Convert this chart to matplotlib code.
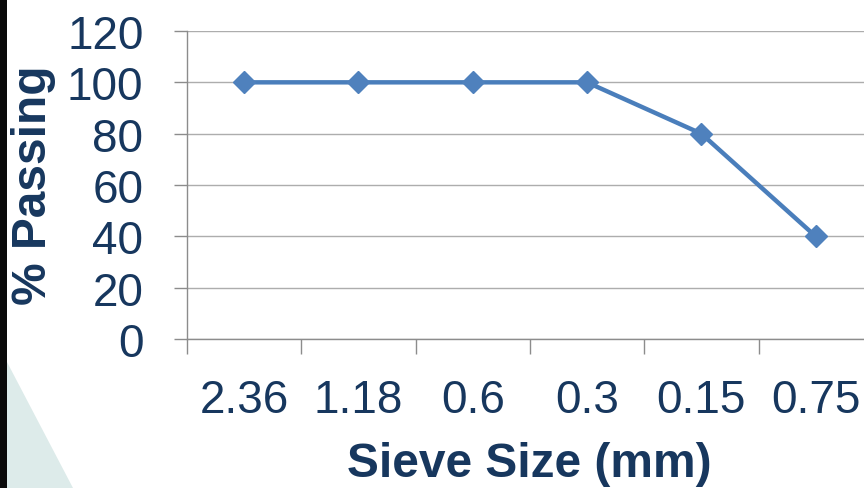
import matplotlib
matplotlib.use("Agg")
import matplotlib.pyplot as plt
from matplotlib.patches import Rectangle, Polygon
from matplotlib.ticker import FixedLocator

sieve_sizes = ["2.36", "1.18", "0.6", "0.3", "0.15", "0.75"]
percent_passing = [100, 100, 100, 100, 80, 40]
y_ticks = [0, 20, 40, 60, 80, 100, 120]

W, H = 864, 489
fig = plt.figure(figsize=(W / 100, H / 100), dpi=100)
fig.patch.set_facecolor("white")

# decorative background: dark left strip and pale teal triangle
fig.patches.append(Rectangle((0, 0), 7 / W, 1, transform=fig.transFigure,
                             facecolor="#0a0a0a", edgecolor="none", zorder=0))
fig.patches.append(Polygon([(7 / W, 1 - 363 / H), (7 / W, 0), (73 / W, 0)],
                           closed=True, transform=fig.transFigure,
                           facecolor="#DDEBEA", edgecolor="none", zorder=0))

text_color = "#17375E"
font = "Liberation Sans"

ax = fig.add_axes([187 / W, 1 - 340 / H, (W - 187) / W, (340 - 32) / H])
ax.set_facecolor("none")

x = list(range(len(sieve_sizes)))
ax.plot(x, percent_passing, color="#4A7EBB", linewidth=3.2, marker="D",
        markersize=11.5, markerfacecolor="#4F81BD", markeredgecolor="#4F81BD",
        zorder=3, clip_on=False)

ax.set_ylim(0, 120)
ax.set_xlim(-0.5, -0.5 + (W - 187) / 114.3)
ax.set_yticks(y_ticks)
ax.set_yticklabels([str(v) for v in y_ticks], fontsize=33, color=text_color,
                   family=font)
ax.set_xticks(x)
ax.set_xticklabels(sieve_sizes, fontsize=33, color=text_color, family=font)
ax.xaxis.set_minor_locator(FixedLocator([i - 0.5 for i in range(len(sieve_sizes))]))

ax.grid(axis="y", color="#ADADAD", linewidth=1.0)
ax.set_axisbelow(True)
for s in ["top", "right"]:
    ax.spines[s].set_visible(False)
for s in ["left", "bottom"]:
    ax.spines[s].set_color("#8C8C8C")
    ax.spines[s].set_linewidth(1.0)

ax.tick_params(axis="y", which="major", length=9.4, width=1.0, color="#8C8C8C",
               pad=22)
ax.tick_params(axis="x", which="major", length=0, pad=28)
ax.tick_params(axis="x", which="minor", length=11, width=1.0, color="#8C8C8C")

fig.text(34 / W, 1 - 185 / H, "% Passing", rotation=90, ha="center",
         va="center", fontsize=34.5, fontweight="bold", color=text_color,
         family=font)
fig.text(529 / W, 1 - 477 / H, "Sieve Size (mm)", ha="center", va="baseline",
         fontsize=34.5, fontweight="bold", color=text_color, family=font)

fig.savefig("out.png", dpi=100, facecolor=fig.get_facecolor())
